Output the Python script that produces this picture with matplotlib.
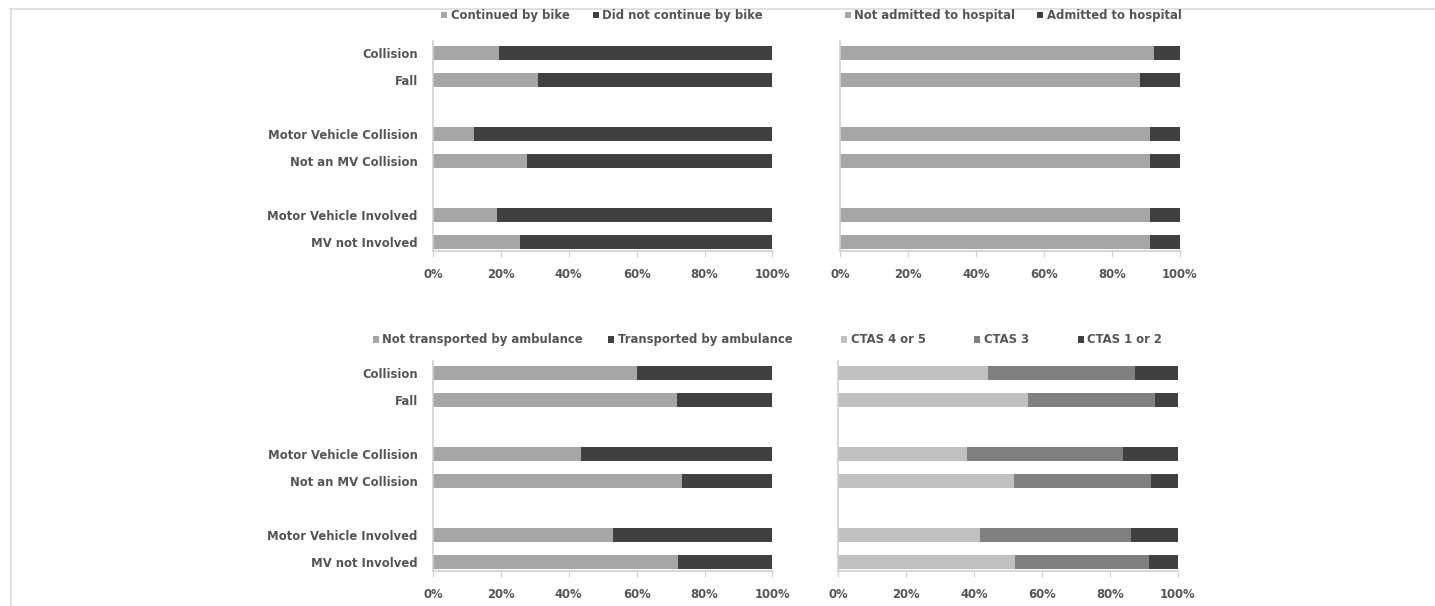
import matplotlib
matplotlib.use("Agg")
import matplotlib.pyplot as plt
from matplotlib.lines import Line2D
from matplotlib.ticker import PercentFormatter

plt.rcParams['font.family'] = ['DejaVu Sans']
plt.rcParams['font.weight'] = 'bold'

categories = ["Collision", "Fall", "Motor Vehicle Collision", "Not an MV Collision",
              "Motor Vehicle Involved", "MV not Involved"]
ypos = [0, 1, 3, 4, 6, 7]

# share of each group (%)
continued_bike = [19.6, 30.8, 12.1, 27.8, 18.9, 25.7]
not_admitted = [92.4, 88.2, 91.4, 91.2, 91.4, 91.2]
not_ambulance = [60.1, 71.9, 43.6, 73.3, 53.0, 72.3]
ctas_45 = [44.2, 55.9, 37.9, 51.8, 41.8, 52.1]
ctas_3 = [43.4, 37.5, 46.0, 40.3, 44.5, 39.5]

LIGHT = "#a6a6a6"
DARK = "#404040"
TXT = "#555555"
FS = 8.4


def stacked(ax, series, labels, colors, show_labels):
    left = [0] * len(ypos)
    for vals, lab, col in zip(series, labels, colors):
        ax.barh(ypos, vals, left=left, height=0.52, color=col, label=lab)
        left = [a + b for a, b in zip(left, vals)]
    ax.set_xlim(0, 100)
    ax.set_ylim(7.35, -0.45)
    ax.set_xticks(range(0, 101, 20))
    ax.xaxis.set_major_formatter(PercentFormatter(decimals=0))
    ax.set_yticks(ypos)
    ax.set_yticklabels(categories if show_labels else [])
    for s in ("top", "right"):
        ax.spines[s].set_visible(False)
    for s in ("left", "bottom"):
        ax.spines[s].set_color("#d0d0d0")
        ax.spines[s].set_linewidth(1.2)
    ax.tick_params(axis="y", length=0, pad=11, labelsize=FS, labelcolor=TXT)
    ax.tick_params(axis="x", length=4, color="#d0d0d0", pad=8, labelsize=FS, labelcolor=TXT)


fig = plt.figure(figsize=(14.35, 6.06), dpi=100)

W = 0.2366
H = 0.3465
ax1 = fig.add_axes([0.3017, 0.5858, W, H])
ax2 = fig.add_axes([0.5854, 0.5858, W, H])
ax3 = fig.add_axes([0.3017, 0.0578, W, H])
ax4 = fig.add_axes([0.5840, 0.0578, W, H])

stacked(ax1, [continued_bike, [100 - v for v in continued_bike]],
        ["Continued by bike", "Did not continue by bike"], [LIGHT, DARK], True)
stacked(ax2, [not_admitted, [100 - v for v in not_admitted]],
        ["Not admitted to hospital", "Admitted to hospital"], [LIGHT, DARK], False)
stacked(ax3, [not_ambulance, [100 - v for v in not_ambulance]],
        ["Not transported by ambulance", "Transported by ambulance"], [LIGHT, DARK], True)
ctas_12 = [100 - a - b for a, b in zip(ctas_45, ctas_3)]
stacked(ax4, [ctas_45, ctas_3, ctas_12],
        ["CTAS 4 or 5", "CTAS 3", "CTAS 1 or 2"], ["#c0c0c0", "#808080", DARK], False)

legend_pos = [(ax1, 0.4195, 0.974, 2.0), (ax2, 0.706, 0.974, 1.9),
              (ax3, 0.406, 0.439, 2.2), (ax4, 0.698, 0.439, 4.2)]
for ax, x, y, cs in legend_pos:
    h, l = ax.get_legend_handles_labels()
    fig.legend(h, l, loc="center", bbox_to_anchor=(x, y), ncol=len(l), frameon=False,
               fontsize=FS, labelcolor=TXT, handlelength=0.5, handleheight=0.5,
               handletextpad=0.3, columnspacing=cs, borderaxespad=0)

# faint frame lines at the top and left edge of the image
fig.add_artist(Line2D([0.007, 1.0], [0.985, 0.985], color="#dcdcdc", lw=1.2))
fig.add_artist(Line2D([0.0075, 0.0075], [0.0, 0.985], color="#dcdcdc", lw=1.2))

fig.savefig("out.png", dpi=100, facecolor="white")
